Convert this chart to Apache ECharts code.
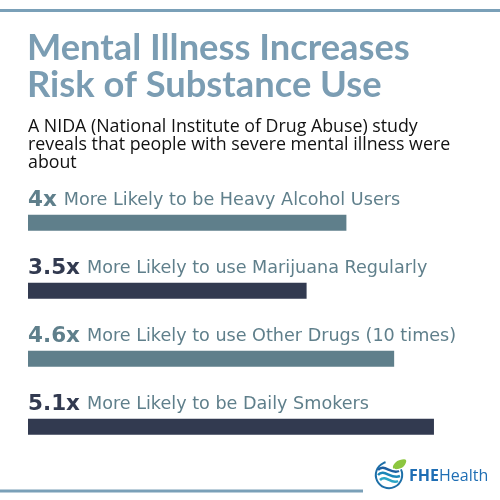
<!DOCTYPE html>
<html><head><meta charset="utf-8">
<script src="https://cdn.jsdelivr.net/npm/echarts@6/dist/echarts.min.js"></script>
<style>html,body{margin:0;padding:0;background:#fff}#c{width:500px;height:500px}</style>
</head><body><div id="c"></div>
<script>
const categories = ['More Likely to be Heavy Alcohol Users', 'More Likely to use Marijuana Regularly', 'More Likely to use Other Drugs (10 times)', 'More Likely to be Daily Smokers'];
const values = [4, 3.5, 4.6, 5.1];
const numberLabels = ['4x', '3.5x', '4.6x', '5.1x'];
const barColors = ['#5f7f8b', '#323a50', '#5f7f8b', '#323a50'];
const titleText = 'Mental Illness Increases\nRisk of Substance Use';
const subText = 'A NIDA (National Institute of Drug Abuse) study\nreveals that people with severe mental illness were\nabout';

const chart = echarts.init(document.getElementById('c'), null, {renderer: 'canvas'});
const FONT = 'Lato';
const FONT2 = 'Open Sans';
const FONT3 = 'DejaVu Sans';
const D = Math.PI / 180;
chart.setOption({
  animation: false,
  backgroundColor: '#fff',
  title: [{
    text: titleText, left: 27, top: 30, padding: 0,
    textStyle: {fontFamily: FONT, fontWeight: 'bold', fontSize: 36.3, lineHeight: 37, color: '#7b9db3'}
  }, {
    text: subText, left: 28, top: 118, padding: 0,
    textStyle: {fontFamily: FONT2, fontWeight: 'normal', fontSize: 17.8, lineHeight: 18, color: '#111'}
  }],
  grid: {left: 28, top: 188.7, width: 437.8, height: 272, outerBoundsMode: 'none', containLabel: false},
  xAxis: {type: 'value', min: 0, max: 5.5, show: false},
  yAxis: {type: 'category', data: categories, inverse: true, show: false},
  series: [{
    type: 'bar', barWidth: 16,
    data: values.map((v, i) => ({
      value: v,
      itemStyle: {color: barColors[i]},
      label: {rich: {n: {fontFamily: FONT3, fontWeight: 'bold', fontSize: 21.5, color: barColors[i]}}}
    })),
    label: {
      show: true, position: [0, -3], align: 'left', verticalAlign: 'bottom',
      formatter: p => `{n|${numberLabels[p.dataIndex]}}{t|${categories[p.dataIndex]}}`,
      rich: {
        n: {fontFamily: FONT3, fontWeight: 'bold', fontSize: 21.5},
        t: {fontFamily: FONT3, fontSize: 17.6, color: '#5f7f8b', padding: [0, 0, 1, 7]}
      }
    }
  }],
  graphic: [
    {type: 'rect', shape: {x: 0, y: 9, width: 500, height: 3}, style: {fill: '#7aa0b8'}},
    {type: 'rect', shape: {x: 0, y: 489.5, width: 363, height: 3}, style: {fill: '#7aa0b8'}},
    {type: 'arc', shape: {cx: 389, cy: 475, r: 13.2, startAngle: -25 * D, endAngle: 255 * D, clockwise: true}, style: {fill: 'none', stroke: '#1d6fa8', lineWidth: 2}},
    {type: 'bezierCurve', shape: {x1: 378, y1: 470, x2: 399, y2: 471, cpx1: 384, cpy1: 463, cpx2: 391, cpy2: 475}, style: {fill: 'none', stroke: '#1d5fa0', lineWidth: 2.5}},
    {type: 'bezierCurve', shape: {x1: 378, y1: 475, x2: 400, y2: 476, cpx1: 384, cpy1: 468, cpx2: 391, cpy2: 480}, style: {fill: 'none', stroke: '#1a86b8', lineWidth: 2.5}},
    {type: 'bezierCurve', shape: {x1: 380, y1: 480, x2: 398, y2: 481, cpx1: 386, cpy1: 474, cpx2: 391, cpy2: 485}, style: {fill: 'none', stroke: '#2aa6c6', lineWidth: 2.5}},
    {type: 'polygon', shape: {points: [[393, 468], [395, 463], [400, 460], [406, 460], [404, 466], [398, 469]], smooth: 0.4}, style: {fill: '#8cc63f'}},
    {type: 'text', x: 409, y: 484, style: {
      text: '{a|FHE}{b|Health}', textVerticalAlign: 'bottom',
      rich: {
        a: {fontFamily: FONT2, fontWeight: 'bold', fontSize: 16, fill: '#1f6eb4', color: '#1f6eb4'},
        b: {fontFamily: FONT2, fontWeight: 'normal', fontSize: 16, fill: '#1f6eb4', color: '#1f6eb4'}
      }
    }}
  ]
});
</script></body></html>
